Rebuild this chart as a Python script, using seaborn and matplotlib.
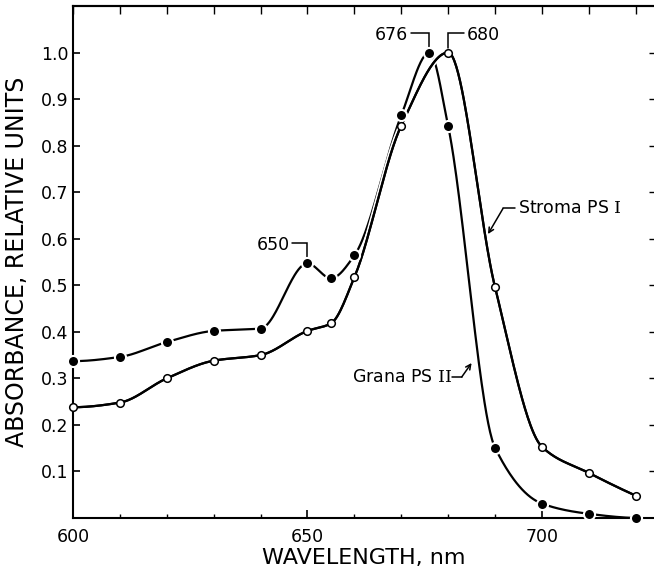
import numpy as np
import pandas as pd
import matplotlib
matplotlib.use("Agg")
import matplotlib.pyplot as plt
import matplotlib.patheffects as pe
from matplotlib.ticker import FixedLocator, MultipleLocator
import seaborn as sns

# Absorbance spectra of the two photosystem fractions
wavelength_grana = [600, 610, 620, 630, 640, 650, 655, 660, 670, 676, 680, 690, 700, 710, 720]
absorbance_grana = [0.337, 0.346, 0.378, 0.402, 0.407, 0.547, 0.515, 0.564, 0.865, 1.0,
                    0.842, 0.151, 0.031, 0.009, 0.0]

wavelength_stroma = [600, 610, 620, 630, 640, 650, 655, 660, 670, 680, 690, 700, 710, 720]
absorbance_stroma = [0.238, 0.248, 0.300, 0.338, 0.350, 0.402, 0.418, 0.517, 0.843, 1.0,
                     0.496, 0.153, 0.097, 0.048]

x_major_ticks = [600, 650, 700]
y_ticks = [0.1, 0.2, 0.3, 0.4, 0.5, 0.6, 0.7, 0.8, 0.9, 1.0]
y_tick_labels = ["0.1", "0.2", "0.3", "0.4", "0.5", "0.6", "0.7", "0.8", "0.9", "1.0"]


def pchip(x, y, xs):
    """Monotone piecewise cubic Hermite curve through the measured points."""
    x = np.asarray(x, float)
    y = np.asarray(y, float)
    h = np.diff(x)
    d = np.diff(y) / h
    n = len(x)
    m = np.zeros(n)
    for k in range(1, n - 1):
        if d[k - 1] * d[k] > 0:
            w1 = 2 * h[k] + h[k - 1]
            w2 = h[k] + 2 * h[k - 1]
            m[k] = (w1 + w2) / (w1 / d[k - 1] + w2 / d[k])

    def end_slope(h0, h1, d0, d1):
        s = ((2 * h0 + h1) * d0 - h0 * d1) / (h0 + h1)
        if np.sign(s) != np.sign(d0):
            s = 0.0
        elif np.sign(d0) != np.sign(d1) and abs(s) > abs(3 * d0):
            s = 3 * d0
        return s

    m[0] = end_slope(h[0], h[1], d[0], d[1])
    m[-1] = end_slope(h[-1], h[-2], d[-1], d[-2])
    idx = np.clip(np.searchsorted(x, xs, side="right") - 1, 0, n - 2)
    t = (xs - x[idx]) / h[idx]
    h00 = 2 * t**3 - 3 * t**2 + 1
    h10 = t**3 - 2 * t**2 + t
    h01 = -2 * t**3 + 3 * t**2
    h11 = t**3 - t**2
    return h00 * y[idx] + h10 * h[idx] * m[idx] + h01 * y[idx + 1] + h11 * h[idx] * m[idx + 1]


def smooth_frame(x, y):
    xs = np.linspace(min(x), max(x), 600)
    return pd.DataFrame({"wavelength": xs, "absorbance": pchip(x, y, xs)})


grana_pts = pd.DataFrame({"wavelength": wavelength_grana, "absorbance": absorbance_grana})
stroma_pts = pd.DataFrame({"wavelength": wavelength_stroma, "absorbance": absorbance_stroma})
grana_curve = smooth_frame(wavelength_grana, absorbance_grana)
stroma_curve = smooth_frame(wavelength_stroma, absorbance_stroma)

sns.set_style("ticks")
plt.rcParams.update({
    "font.family": ["DejaVu Sans"],
    "axes.linewidth": 1.5,
    "axes.edgecolor": "black",
    "axes.labelcolor": "black",
    "text.color": "black",
    "xtick.color": "black",
    "ytick.color": "black",
    "mathtext.fontset": "custom",
    "mathtext.rm": "DejaVu Serif",
})

fig = plt.figure(figsize=(6.54, 5.71), dpi=100)
fig.patch.set_facecolor("white")
ax = fig.add_axes([73 / 654, 53 / 571, 581 / 654, 512 / 571])

# curves
sns.lineplot(data=grana_curve, x="wavelength", y="absorbance", ax=ax, color="black",
             lw=1.6, sort=False, estimator=None)
sns.lineplot(data=stroma_curve, x="wavelength", y="absorbance", ax=ax, color="black",
             lw=1.6, sort=False, estimator=None,
             path_effects=[pe.withStroke(linewidth=4, foreground="white"), pe.Normal()])

# data points
sns.scatterplot(data=grana_pts, x="wavelength", y="absorbance", ax=ax, s=64,
                color="black", edgecolor="white", linewidth=1.5, zorder=5, clip_on=False)
sns.scatterplot(data=stroma_pts, x="wavelength", y="absorbance", ax=ax, s=30,
                color="white", edgecolor="black", linewidth=1.1, zorder=5, clip_on=False)

ax.set_xlim(600, 723.9)
ax.set_ylim(0, 1.1)

ax.xaxis.set_major_locator(FixedLocator(x_major_ticks))
ax.xaxis.set_minor_locator(MultipleLocator(10))
ax.set_yticks(y_ticks)
ax.set_yticklabels(y_tick_labels)
ax.tick_params(axis="x", which="major", direction="in", length=6, width=1.2,
               labelsize=12.5, pad=7)
ax.tick_params(axis="x", which="minor", direction="in", length=3, width=1.0)
ax.tick_params(axis="y", which="major", direction="in", length=5, width=1.2,
               labelsize=12.5, pad=3.5)
ax.spines["right"].set_visible(False)
ax.spines["top"].set_linewidth(1.5)

top = ax.secondary_xaxis("top")
top.set_xticks(list(range(600, 721, 10)))
top.tick_params(direction="in", length=6, width=1.0, labeltop=False)
top.spines["top"].set_linewidth(1.5)

right = ax.secondary_yaxis("right")
right.set_yticks(y_ticks)
right.tick_params(direction="in", length=3.5, width=1.0, labelright=False)
right.spines["right"].set_visible(False)

ax.set_xlabel("WAVELENGTH, nm", fontsize=16, labelpad=2)
ax.set_ylabel("ABSORBANCE, RELATIVE UNITS", fontsize=17, labelpad=8)

# peak labels with leaders
lead = dict(color="black", lw=1.1, solid_joinstyle="miter")
ax.plot([646.7, 650, 650], [0.590, 0.590, 0.558], **lead)
ax.text(646.3, 0.586, "650", ha="right", va="center", fontsize=12.5)

ax.plot([672.0, 676, 676], [1.041, 1.041, 1.009], **lead)
ax.text(671.4, 1.037, "676", ha="right", va="center", fontsize=12.5)

ax.plot([680, 680, 683.3], [1.009, 1.041, 1.041], **lead)
ax.text(684.0, 1.037, "680", ha="left", va="center", fontsize=12.5)

# series labels with arrows
ax.plot([694.3, 691.7], [0.665, 0.665], **lead)
ax.annotate("", xy=(688.5, 0.610), xytext=(691.7, 0.665),
            arrowprops=dict(arrowstyle="->", lw=1.1, color="black",
                            shrinkA=0, shrinkB=0, mutation_scale=9))
ax.text(694.9, 0.665, r"Stroma PS $\mathrm{I}$", ha="left", va="center", fontsize=12.5)

ax.plot([680.9, 682.9], [0.303, 0.303], **lead)
ax.annotate("", xy=(685.0, 0.333), xytext=(682.9, 0.303),
            arrowprops=dict(arrowstyle="->", lw=1.1, color="black",
                            shrinkA=0, shrinkB=0, mutation_scale=9))
ax.text(680.8, 0.303, r"Grana PS $\mathrm{II}$", ha="right", va="center", fontsize=12.5)

fig.savefig("out.png", dpi=100, facecolor="white")
